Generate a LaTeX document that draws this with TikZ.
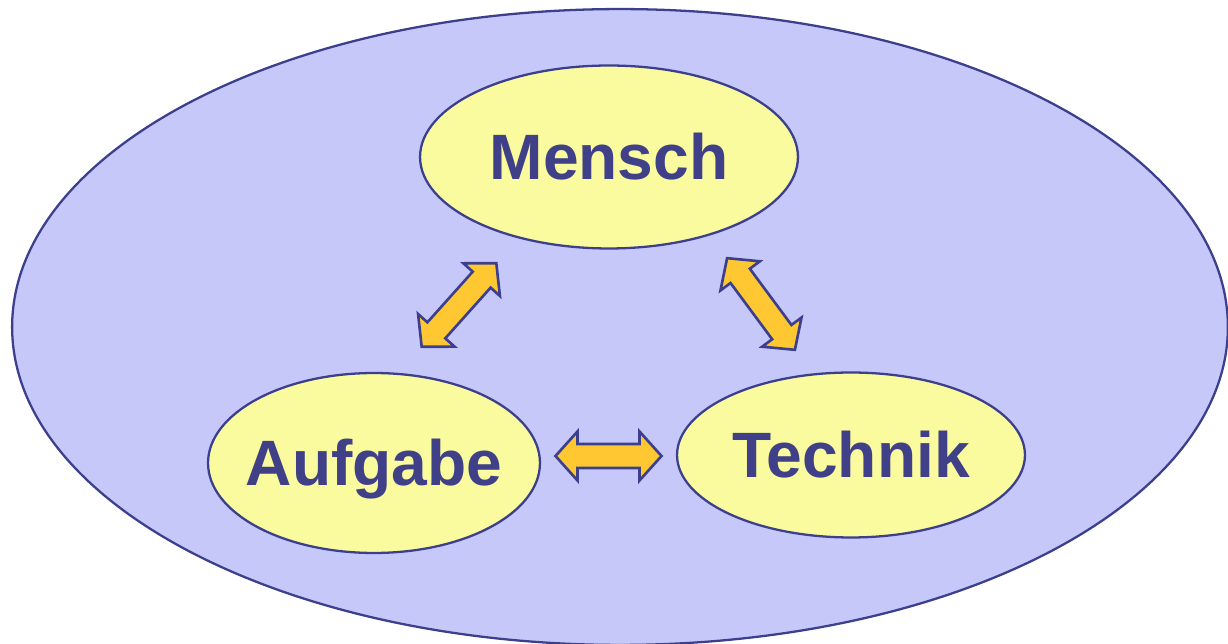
\documentclass[tikz,border=0pt]{standalone}
\usepackage{fontspec}
\setmainfont{Liberation Sans}
\usetikzlibrary{shapes.geometric}

\definecolor{outerblue}{RGB}{198,200,250}
\definecolor{rimblue}{RGB}{60,64,140}
\definecolor{paleyellow}{RGB}{250,250,158}
\definecolor{labelblue}{RGB}{64,64,136}
\definecolor{arrowgold}{RGB}{255,200,50}

\tikzset{
  topic/.style={ellipse,draw=rimblue,line width=1.3pt,fill=paleyellow,inner sep=0pt,
    label={[text=labelblue,font=\fontsize{36.5pt}{40pt}\selectfont\bfseries,
            text height=0.92cm,text depth=0pt,inner sep=0pt]center:#1}},
  pics/twoway/.style={code={
    \draw[rimblue,fill=arrowgold,line width=1.5pt,line join=miter]
      (-#1,0) -- ++(22,24.5) -- ++(0,-12.5) -- (#1-22,12) -- ++(0,12.5)
      -- (#1,0) -- ++(-22,-24.5) -- ++(0,12.5) -- (-#1+22,-12) -- ++(0,-12.5) -- cycle;
  }}
}

\begin{document}
\begin{tikzpicture}[x=0.02cm,y=-0.02cm]
  \useasboundingbox (0,0) rectangle (1228,644);
  \clip (0,0) rectangle (1228,644);

  % surrounding system
  \node[ellipse,draw=rimblue,line width=1.3pt,fill=outerblue,
        minimum width=24.32cm,minimum height=12.72cm] (system) at (620,327) {};

  \node[topic=Mensch,minimum width=7.56cm,minimum height=3.66cm] (mensch) at (609,157) {};
  \node[topic=Aufgabe,minimum width=6.64cm,minimum height=3.6cm] (aufgabe) at (374,463) {};
  \node[topic=Technik,minimum width=6.96cm,minimum height=3.3cm] (technik) at (851,455) {};

  % interactions
  \pic[rotate=48.2] at (459,305) {twoway=56};
  \pic[rotate=-53.5] at (761,304) {twoway=57};
  \pic at (608.5,456) {twoway=53};
\end{tikzpicture}
\end{document}
